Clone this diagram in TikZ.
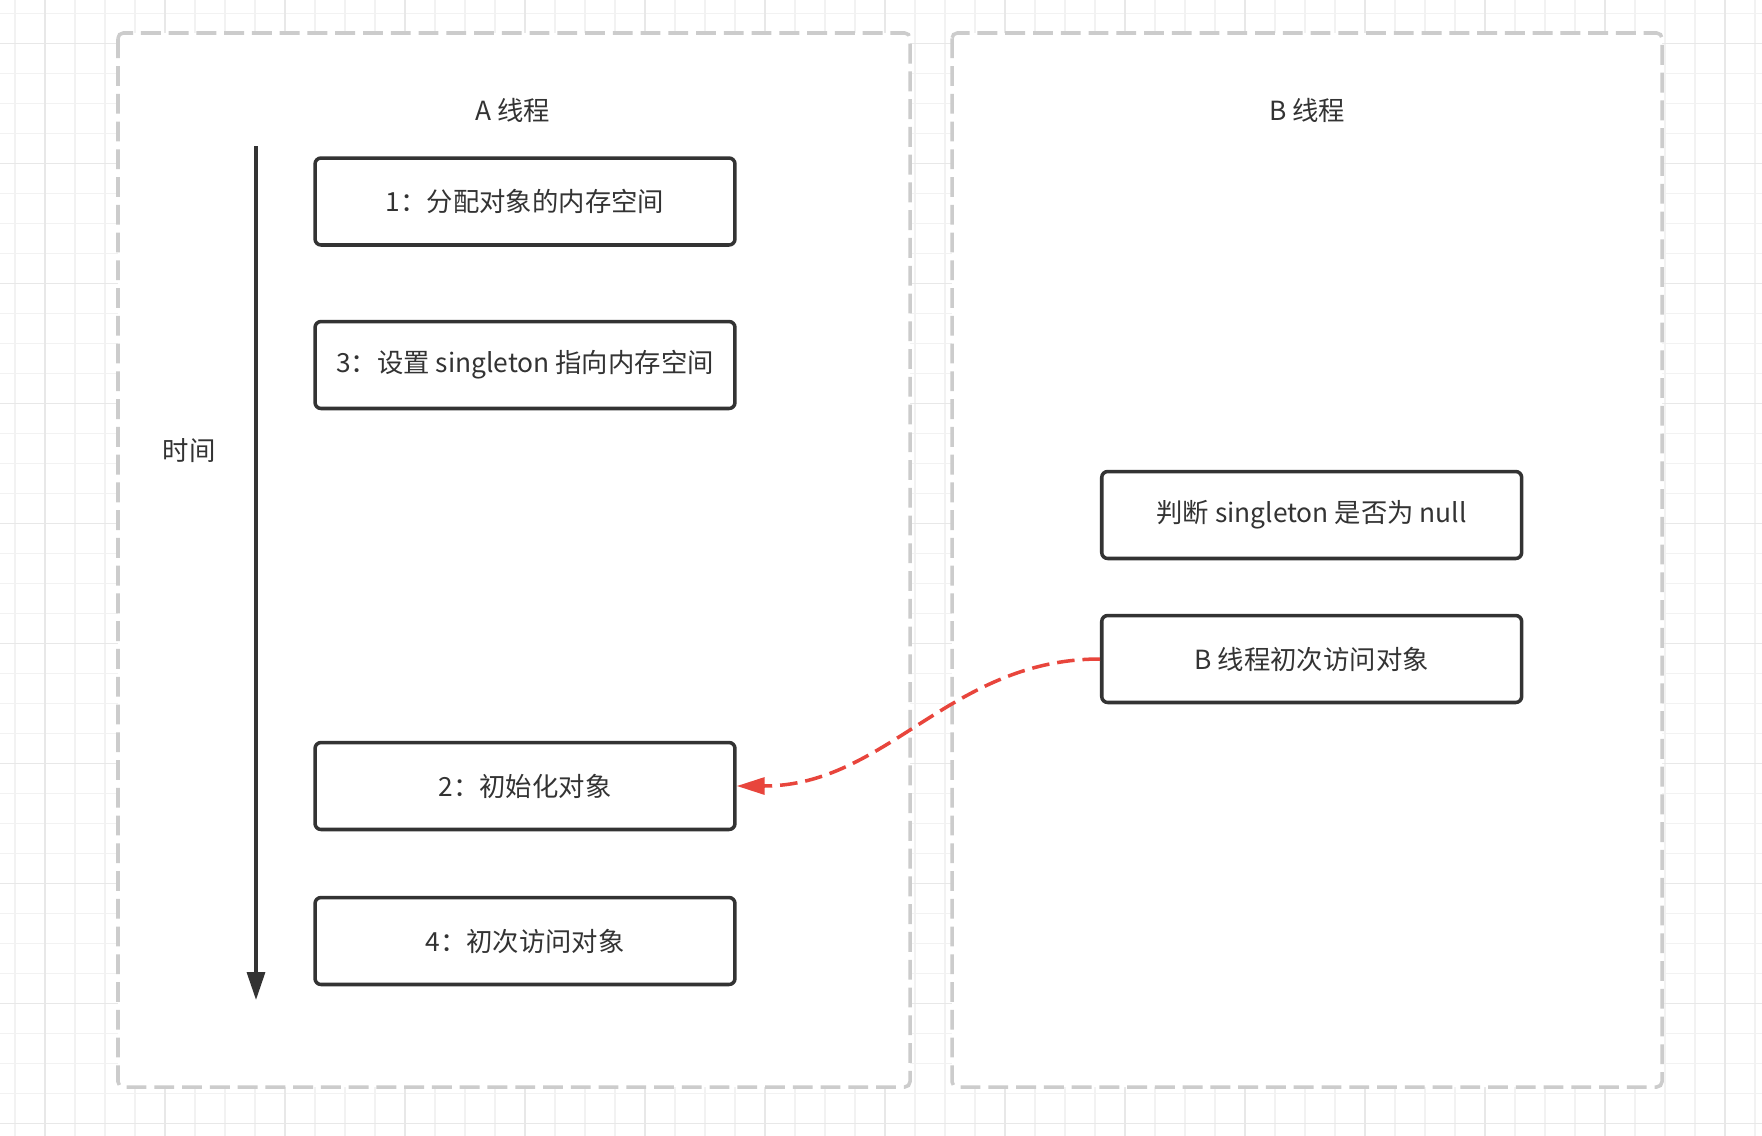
\documentclass[tikz,border=0pt]{standalone}
\usepackage{fontspec}
\setmainfont{Noto Sans CJK SC}
\usetikzlibrary{arrows.meta}
\definecolor{ink}{HTML}{333333}
\definecolor{lanegray}{HTML}{CCCCCC}
\definecolor{gridminor}{HTML}{F2F2F2}
\definecolor{gridmajor}{HTML}{E8E8E8}
\definecolor{warnred}{HTML}{E8453C}
\begin{document}
\begin{tikzpicture}[x=0.02cm,y=-0.02cm,
  lane/.style={draw=lanegray,fill=white,line width=2pt,dash pattern=on 11.3pt off 4.5pt,rounded corners=3pt},
  stepbox/.style={draw=ink,line width=2pt,rounded corners=3.4pt,minimum width=8.4cm,minimum height=1.74cm,text=ink,font=\fontsize{15pt}{18pt}\selectfont},
  lanetitle/.style={text=ink,font=\fontsize{15pt}{18pt}\selectfont}]
  \useasboundingbox (0,0) rectangle (1762,1136);
  \fill[white] (0,0) rectangle (1762,1136);
  % background grid
  \foreach \x in {15,45,...,1755} \draw[gridminor,line width=0.8pt] (\x,0) -- (\x,1136);
  \foreach \y in {13.3,43.3,...,1136} \draw[gridminor,line width=0.8pt] (0,\y) -- (1762,\y);
  \foreach \x in {45,165,...,1755} \draw[gridmajor,line width=0.8pt] (\x,0) -- (\x,1136);
  \foreach \y in {43.3,163.3,...,1136} \draw[gridmajor,line width=0.8pt] (0,\y) -- (1762,\y);
  % thread lanes
  \draw[lane] (118,33) rectangle (910,1087);
  \draw[lane] (952,33) rectangle (1662,1087);
  \node[lanetitle] (atitle) at (513,110) {A 线程};
  \node[lanetitle] (btitle) at (1307,110) {B 线程};
  \node[lanetitle] (time) at (189,451) {时间};
  % A thread steps
  \node[stepbox] (alloc) at (525,201.5) {1：分配对象的内存空间};
  \node[stepbox] (assign) at (525,365) {3：设置 singleton 指向内存空间};
  \node[stepbox] (init) at (525,786) {2：初始化对象};
  \node[stepbox] (use) at (525,941) {4：初次访问对象};
  % B thread steps
  \node[stepbox] (check) at (1311.7,515) {判断 singleton 是否为 null};
  \node[stepbox] (bvisit) at (1311.7,659) {B 线程初次访问对象};
  % time axis
  \coordinate (ttop) at (256,146);
  \coordinate (tbot) at (256,1000);
  \draw[ink,line width=2pt,-{Triangle[length=15.9pt,width=10.2pt]}] (ttop) -- (tbot);
  \draw[warnred,line width=2pt,dash pattern=on 10pt off 4.5pt,-{Triangle[length=15.9pt,width=9.6pt]}]
    (bvisit.west) .. controls +(-150,0) and +(150,0) .. (init.east);
\end{tikzpicture}
\end{document}
